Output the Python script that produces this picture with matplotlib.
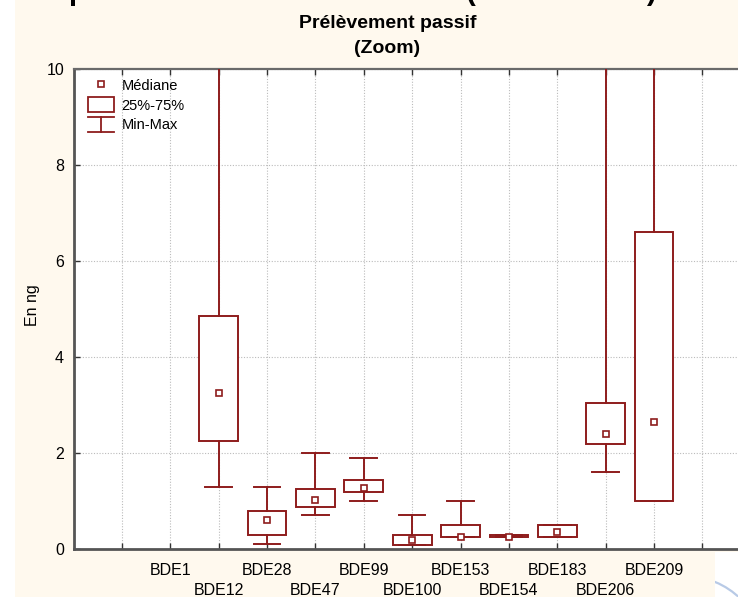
import numpy as np
import matplotlib.pyplot as plt
from matplotlib.lines import Line2D
from matplotlib.patches import Patch, Rectangle, Arc
from matplotlib.legend_handler import HandlerBase

plt.rcParams['font.family'] = ['Liberation Sans', 'DejaVu Sans']

# x axis categories (first and last ticks carry no label)
tick_labels = ['', 'BDE1', 'BDE12', 'BDE28', 'BDE47', 'BDE99', 'BDE100',
               'BDE153', 'BDE154', 'BDE183', 'BDE206', 'BDE209', '']

# box statistics (BDE1 has no data)
congeners = ['BDE12', 'BDE28', 'BDE47', 'BDE99', 'BDE100', 'BDE153',
             'BDE154', 'BDE183', 'BDE206', 'BDE209']
medians = [3.25, 0.60, 1.03, 1.28, 0.19, 0.24, 0.25, 0.36, 2.40, 2.65]
q1 = [2.25, 0.30, 0.88, 1.19, 0.09, 0.24, 0.24, 0.24, 2.19, 1.00]
q3 = [4.85, 0.80, 1.24, 1.44, 0.29, 0.49, 0.29, 0.49, 3.04, 6.60]
mins = [1.30, 0.10, 0.70, 1.00, 0.09, 0.24, 0.24, 0.24, 1.60, 1.00]
maxs = [12.5, 1.30, 2.00, 1.90, 0.70, 1.00, 0.29, 0.49, 11.5, 13.0]  # >10 are off the zoom

red = '#8e1c1c'
cream = '#fff9ee'
W, H = 738, 597

fig = plt.figure(figsize=(W / 100, H / 100), dpi=100)
fig.patch.set_facecolor('white')

# light blue arc in the white bottom-right corner, then the cream chart image over it
fig.add_artist(Arc((6.85, -0.58), 1.58, 1.58, theta1=0, theta2=90,
                   transform=fig.dpi_scale_trans, color='#b8cae6', lw=1.6, zorder=-4))
fig.add_artist(Rectangle((15 / W, 45 / H), 1, 1, transform=fig.transFigure,
                         facecolor=cream, edgecolor='none', zorder=-3))
fig.add_artist(Rectangle((15 / W, 0), 700 / W, 45 / H + 0.001, transform=fig.transFigure,
                         facecolor=cream, edgecolor='none', zorder=-3))

ax = fig.add_axes([73.5 / W, 48 / H, 14 * 48.38 / W, 480 / H])
ax.set_facecolor('white')

ticks = np.arange(1, len(tick_labels) + 1)
pos = [tick_labels.index(c) + 1 for c in congeners]

stats = [dict(med=m, q1=a, q3=b, whislo=lo, whishi=hi, label=c)
         for c, m, a, b, lo, hi in zip(congeners, medians, q1, q3, mins, maxs)]
ax.bxp(stats, positions=pos, widths=0.8, capwidths=0.55, patch_artist=True,
       showfliers=False, manage_ticks=False, zorder=3,
       boxprops=dict(facecolor='white', edgecolor=red, linewidth=1.4),
       whiskerprops=dict(color=red, linewidth=1.4),
       capprops=dict(color=red, linewidth=1.4),
       medianprops=dict(linestyle='none'))
ax.plot(pos, medians, 's', ms=4.8, mfc='white', mec=red, mew=1.2, zorder=4)

ax.set_xlim(0, 14)
ax.set_ylim(0, 10)
ax.set_yticks(np.arange(0, 11, 2))

# two rows of labels: top row on major ticks, bottom row on minor ticks
top_row = [l if i % 2 == 1 else '' for i, l in enumerate(tick_labels)]
bottom_row = [l for i, l in enumerate(tick_labels) if i % 2 == 0 and l]
bottom_pos = [ticks[i] for i, l in enumerate(tick_labels) if i % 2 == 0 and l]
ax.set_xticks(ticks, top_row)
ax.xaxis.remove_overlapping_locs = False
ax.set_xticks(bottom_pos, bottom_row, minor=True)
ax.tick_params(axis='x', which='major', direction='in', length=4, width=1,
               pad=10, labelsize=11.5, top=True, color='#333333')
ax.tick_params(axis='x', which='minor', length=0, pad=24.2, labelsize=11.5)
ax.tick_params(axis='y', direction='in', length=4, width=1, pad=6.8,
               labelsize=11.5, color='#333333')

ax.grid(True, which='major', color='#bbbbbb', linestyle=(0, (1, 1.5)), linewidth=0.8)
ax.set_axisbelow(True)

for side in ['left', 'bottom']:
    ax.spines[side].set_color('#555555')
    ax.spines[side].set_linewidth(2)
ax.spines['top'].set_color('#6a6a6a')
ax.spines['top'].set_linewidth(1.6)
ax.spines['right'].set_visible(False)


class WhiskerHandler(HandlerBase):
    def create_artists(self, legend, orig_handle, xdescent, ydescent,
                       width, height, fontsize, trans):
        x0, x1 = -xdescent, -xdescent + width
        y0, y1 = -ydescent, -ydescent + height
        xm = (x0 + x1) / 2
        segs = [([x0, x1], [y1, y1]), ([xm, xm], [y0, y1]), ([x0, x1], [y0, y0])]
        out = []
        for xs, ys in segs:
            ln = Line2D(xs, ys, color=red, linewidth=1.3, transform=trans)
            out.append(ln)
        return out


h_med = Line2D([], [], marker='s', linestyle='none', ms=4.8, mfc='white', mec=red, mew=1.2)
h_box = Patch(facecolor='white', edgecolor=red, linewidth=1.3)
h_mm = object()
ax.legend([h_med, h_box, h_mm], ['Médiane', '25%-75%', 'Min-Max'],
          handler_map={object: WhiskerHandler()},
          loc='upper left', bbox_to_anchor=(0.021, 0.982), frameon=False,
          fontsize=10.5, handlelength=1.8, handleheight=1.12, handletextpad=0.5,
          labelspacing=0.33, borderpad=0, borderaxespad=0)

fig.text(32 / W, 292 / H, 'En ng', rotation=90, ha='center', va='center', fontsize=11.5)

fig.text(387.5 / W, 1 - 27.7 / H, 'Prélèvement passif', ha='center', va='baseline',
         fontsize=14, fontweight='bold')
fig.text(387.5 / W, 1 - 53.3 / H, '(Zoom)', ha='center', va='baseline',
         fontsize=14, fontweight='bold')

# bottoms of the cut-off slide title above the chart
fig.text(68 / W, 1.0, 'p', ha='left', va='baseline', fontsize=21, fontweight='bold')
fig.text(470 / W, 1.0, '(', ha='center', va='baseline', fontsize=21, fontweight='bold')
fig.text(651 / W, 1.0, ')', ha='center', va='baseline', fontsize=21, fontweight='bold')

fig.savefig('out.png', dpi=100)
